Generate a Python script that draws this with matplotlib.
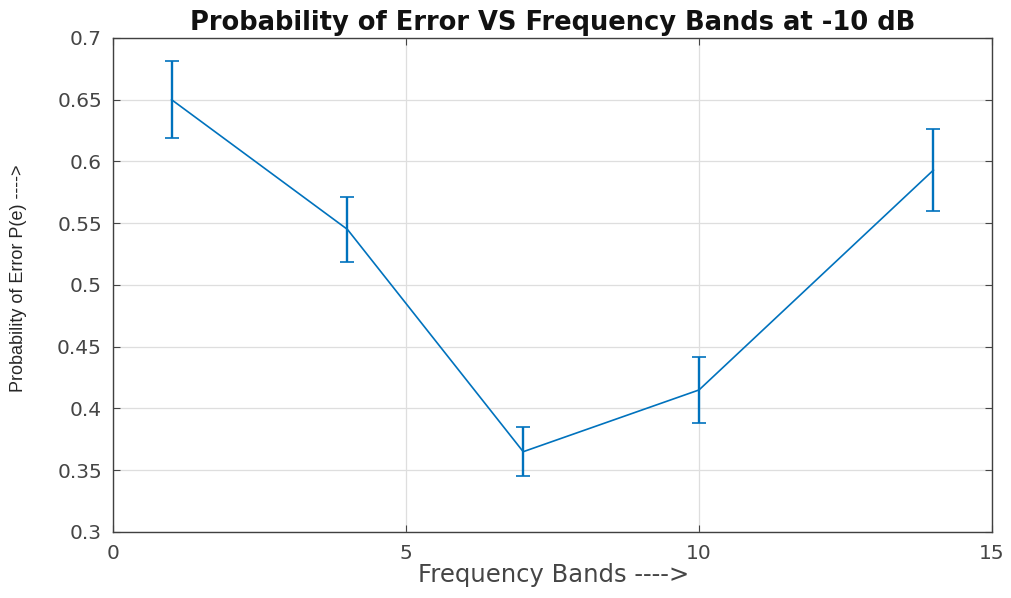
import matplotlib
matplotlib.use("Agg")
import matplotlib.pyplot as plt

# Probability of error per frequency band at -10 dB, with error bars
bands = [1, 4, 7, 10, 14]
p_error = [0.650, 0.545, 0.365, 0.415, 0.593]
err = [0.031, 0.026, 0.020, 0.027, 0.033]
yticks = [0.3, 0.35, 0.4, 0.45, 0.5, 0.55, 0.6, 0.65, 0.7]
ytick_labels = ["0.3", "0.35", "0.4", "0.45", "0.5", "0.55", "0.6", "0.65", "0.7"]

plt.rcParams["font.family"] = ["DejaVu Sans"]

fig = plt.figure(figsize=(10.11, 5.98), dpi=100)
ax = fig.add_axes([0.1118, 0.1104, 0.8694, 0.8261])

line_col = "#0072BD"
ax.errorbar(bands, p_error, yerr=err, color=line_col, lw=1.2,
            capsize=5, capthick=1.2, elinewidth=1.7)

ax.set_xlim(0, 15)
ax.set_ylim(0.3, 0.7)
ax.set_xticks([0, 5, 10, 15])
ax.set_yticks(yticks)
ax.set_yticklabels(ytick_labels)

ax.grid(True, color="#dedede", lw=0.9)
ax.set_axisbelow(True)
ax.tick_params(direction="in", length=5, width=0.8, colors="#454545",
               labelsize=14.5, top=True, right=True)
ax.tick_params(axis="x", pad=9)
ax.tick_params(axis="y", pad=8)
for s in ax.spines.values():
    s.set_color("#404040")
    s.set_linewidth(1.0)

ax.set_title("Probability of Error VS Frequency Bands at -10 dB",
             fontsize=18.5, fontweight="bold", color="#111111", pad=6)
ax.set_xlabel("Frequency Bands ---->", fontsize=17.5, color="#454545")
ax.xaxis.set_label_coords(0.501, -0.063)
ax.set_ylabel("Probability of Error P(e) ---->", fontsize=13, color="#262626",
              family=["Liberation Sans Narrow", "Liberation Sans"])
ax.yaxis.set_label_coords(-0.098, 0.514)

fig.savefig("out.png", dpi=100)
